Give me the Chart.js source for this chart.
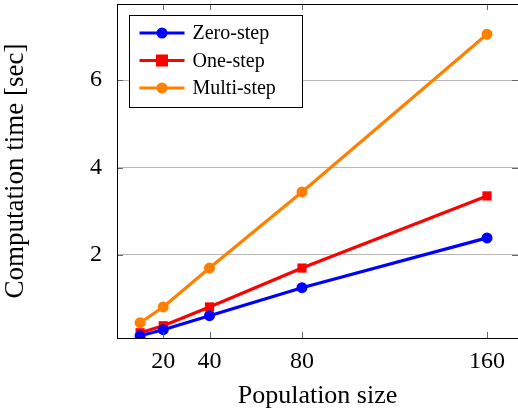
<!DOCTYPE html>
<html><head><meta charset="utf-8">
<script src="https://cdn.jsdelivr.net/npm/chart.js@4.4.1/dist/chart.umd.min.js"></script>
<style>html,body{margin:0;padding:0;background:#fff}#wrap{width:518px;height:412px}</style>
</head><body><div id="wrap"><canvas id="c" width="518" height="412"></canvas></div>
<script>
const populationSizes = [10, 20, 40, 80, 160];
const xTickValues = [20, 40, 80, 160];
const yTickValues = [2, 4, 6];
const zeroStep = [0.15, 0.29, 0.61, 1.25, 2.39];
const oneStep = [0.22, 0.38, 0.81, 1.70, 3.35];
const multiStep = [0.45, 0.81, 1.70, 3.44, 7.05];
const seriesLabels = ['Zero-step', 'One-step', 'Multi-step'];
const xTitle = 'Population size';
const yTitle = 'Computation time [sec]';

const FONT = "'Liberation Serif', 'DejaVu Serif', serif";
const colors = ['#0000ff', '#ff0000', '#ff8000'];
const shapes = ['circle', 'rect', 'circle'];
const radii = [5.5, 6.5, 5.5];
const values = [zeroStep, oneStep, multiStep];

const datasets = values.map((v, i) => ({
  label: seriesLabels[i],
  data: populationSizes.map((x, j) => ({x, y: v[j]})),
  borderColor: colors[i], backgroundColor: colors[i],
  borderWidth: 3.2, pointStyle: shapes[i], pointRadius: radii[i], pointHoverRadius: radii[i],
  pointBorderWidth: 0, tension: 0
}));

function noPad(s) { s.paddingTop = 0; s.paddingBottom = 0; s.paddingLeft = 0; s.paddingRight = 0; }

const framePlugin = {
  id: 'frame',
  afterDatasetsDraw(chart) {
    const {ctx, chartArea: a, scales} = chart;
    ctx.save();
    ctx.lineWidth = 1;
    ctx.strokeStyle = '#666';
    xTickValues.forEach(v => {
      const px = Math.round(scales.x.getPixelForValue(v)) + 0.5;
      ctx.beginPath(); ctx.moveTo(px, a.bottom); ctx.lineTo(px, a.bottom - 6);
      ctx.moveTo(px, a.top); ctx.lineTo(px, a.top + 6); ctx.stroke();
    });
    yTickValues.forEach(v => {
      const py = Math.round(scales.y.getPixelForValue(v)) + 0.5;
      ctx.beginPath(); ctx.moveTo(a.left, py); ctx.lineTo(a.left + 6, py);
      ctx.moveTo(a.right, py); ctx.lineTo(a.right - 6, py); ctx.stroke();
    });
    ctx.strokeStyle = '#000';
    ctx.strokeRect(a.left + 0.5, a.top + 0.5, a.right - a.left + 1, a.bottom - a.top);
    const lx = 129.5, ly = 15.5, lw = 173, lh = 92;
    ctx.fillStyle = '#fff';
    ctx.fillRect(lx, ly, lw, lh);
    ctx.strokeRect(lx, ly, lw, lh);
    chart.data.datasets.forEach((ds, i) => {
      const cy = ly + 17.5 + i * 27.5;
      ctx.strokeStyle = ds.borderColor; ctx.lineWidth = 3.2;
      ctx.beginPath(); ctx.moveTo(lx + 10, cy); ctx.lineTo(lx + 55, cy); ctx.stroke();
      ctx.fillStyle = ds.borderColor;
      if (ds.pointStyle === 'rect') { ctx.fillRect(lx + 32.5 - 6, cy - 6, 12, 12); }
      else { ctx.beginPath(); ctx.arc(lx + 32.5, cy, 5.5, 0, Math.PI * 2); ctx.fill(); }
      ctx.fillStyle = '#000'; ctx.font = '20px ' + FONT; ctx.textBaseline = 'middle'; ctx.textAlign = 'left';
      ctx.fillText(ds.label, lx + 63, cy + 1);
    });
    ctx.restore();
  }
};

new Chart(document.getElementById('c'), {
  type: 'line',
  data: {datasets},
  options: {
    responsive: false, animation: false, devicePixelRatio: 1,
    layout: {autoPadding: false, padding: {top: 4, right: 0, left: 0, bottom: 0}},
    plugins: {legend: {display: false}, tooltip: {enabled: false}},
    scales: {
      x: {
        type: 'linear', min: 0, max: 173.4,
        afterBuildTicks: s => { s.ticks = xTickValues.map(v => ({value: v})); },
        grid: {display: false},
        border: {display: false},
        ticks: {color: '#000', font: {family: FONT, size: 24}, padding: 1, maxRotation: 0, autoSkip: false},
        title: {display: true, text: xTitle, color: '#000', font: {family: FONT, size: 26}, padding: {top: 7, bottom: 0}},
        afterFit: s => { s.height = 74; noPad(s); }
      },
      y: {
        min: 0.1, max: 7.74,
        afterBuildTicks: s => { s.ticks = yTickValues.map(v => ({value: v})); },
        grid: {color: '#b8b8b8', drawTicks: false},
        border: {display: false},
        ticks: {color: '#000', font: {family: FONT, size: 24}, padding: 15},
        title: {display: true, text: yTitle, color: '#000', font: {family: FONT, size: 27}, padding: {top: 0, bottom: 4}},
        afterFit: s => { s.width = 117; noPad(s); }
      }
    }
  },
  plugins: [framePlugin]
});
</script></body></html>
